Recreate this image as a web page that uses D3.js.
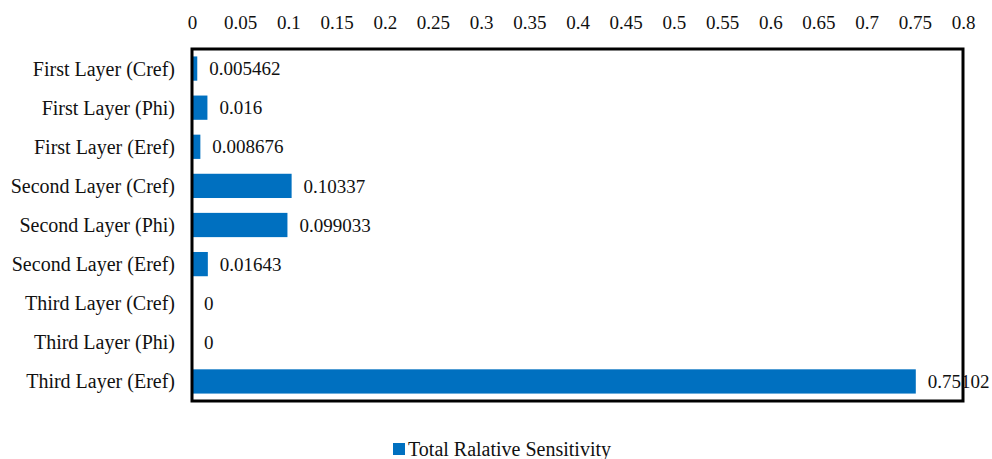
<!DOCTYPE html>
<html>
<head>
<meta charset="utf-8">
<script src="https://cdn.jsdelivr.net/npm/d3@7"></script>
<style>
  body { margin: 0; background: #fff; }
</style>
</head>
<body>
<svg id="chart" width="992" height="459"></svg>
<script>
const categories = [
  "First Layer (Cref)", "First Layer (Phi)", "First Layer (Eref)",
  "Second Layer (Cref)", "Second Layer (Phi)", "Second Layer (Eref)",
  "Third Layer (Cref)", "Third Layer (Phi)", "Third Layer (Eref)"
];
const values = [0.005462, 0.016, 0.008676, 0.10337, 0.099033, 0.01643, 0, 0, 0.75102];
const valueLabels = ["0.005462", "0.016", "0.008676", "0.10337", "0.099033", "0.01643", "0", "0", "0.75102"];
const ticks = [0, 0.05, 0.1, 0.15, 0.2, 0.25, 0.3, 0.35, 0.4, 0.45, 0.5, 0.55, 0.6, 0.65, 0.7, 0.75, 0.8];
const seriesName = "Total Ralative Sensitivity";

const FONT = '"Liberation Serif"';
const FS = "20px";
const svg = d3.select("#chart");
const m = { left: 192, right: 963, top: 49, bottom: 401 };
const color = "#0070C0";

const x = d3.scaleLinear().domain([0, 0.8]).range([m.left, m.right]);
const y = d3.scaleBand().domain(categories).range([m.top, m.bottom]).paddingInner(0.38).paddingOuter(0.19);

function styleText(sel, size = FS) {
  sel.style("font-family", FONT).style("font-size", size).style("fill", "#111");
}

// top axis tick labels
svg.append("g")
  .attr("transform", `translate(0,${m.top - 20})`)
  .call(d3.axisTop(x).tickValues(ticks).tickSize(0).tickPadding(0).tickFormat(d => String(d)))
  .call(g => g.select(".domain").remove())
  .selectAll("text")
  .call(styleText, "19px");

// bars
svg.append("g").selectAll("rect").data(values).join("rect")
  .attr("x", x(0))
  .attr("y", (d, i) => y(categories[i]))
  .attr("width", d => x(d) - x(0))
  .attr("height", y.bandwidth())
  .attr("fill", color);

// frame
svg.append("rect")
  .attr("x", m.left).attr("y", m.top)
  .attr("width", m.right - m.left).attr("height", m.bottom - m.top)
  .attr("fill", "none").attr("stroke", "#000").attr("stroke-width", 3);

// category labels
svg.append("g").selectAll("text").data(categories).join("text")
  .attr("x", m.left - 17)
  .attr("y", d => y(d) + y.bandwidth() / 2)
  .attr("dy", "0.35em")
  .attr("text-anchor", "end")
  .call(styleText)
  .text(d => d);

// value labels
svg.append("g").selectAll("text").data(values).join("text")
  .attr("x", d => x(d) + 12)
  .attr("y", (d, i) => y(categories[i]) + y.bandwidth() / 2)
  .attr("dy", "0.35em")
  .call(styleText, "19px")
  .text((d, i) => valueLabels[i]);

// legend
const lg = svg.append("g").attr("transform", "translate(393,443)");
lg.append("rect").attr("width", 12).attr("height", 12).attr("fill", color);
lg.append("text").attr("x", 15).attr("y", 6).attr("dy", "0.35em")
  .call(styleText).text(seriesName);
</script>
</body>
</html>
